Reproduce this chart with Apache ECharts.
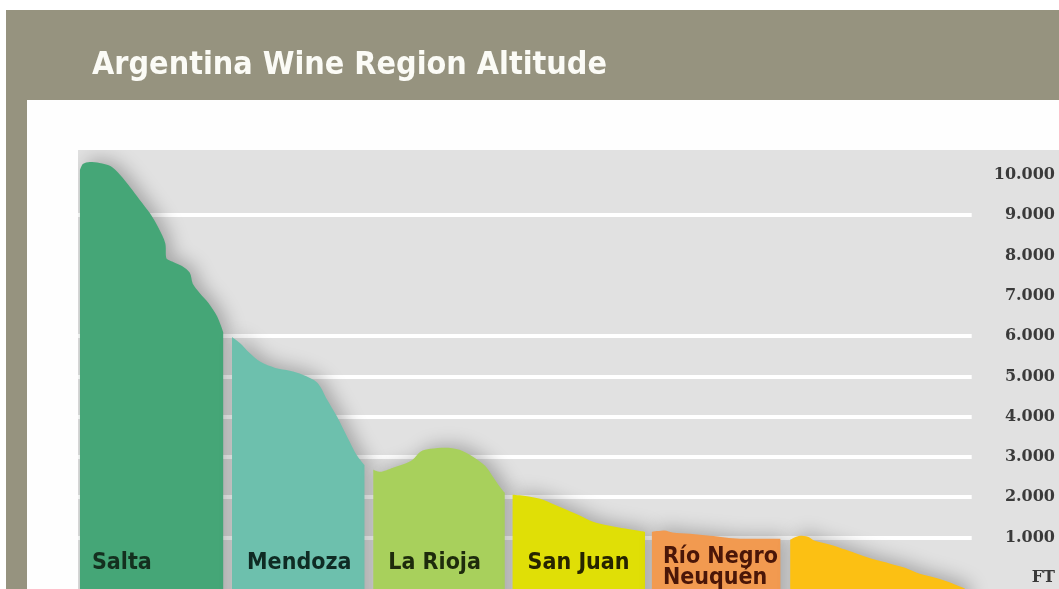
<!DOCTYPE html>
<html><head><meta charset="utf-8">
<script src="https://cdn.jsdelivr.net/npm/echarts@6/dist/echarts.min.js"></script>
<style>html,body{margin:0;padding:0;background:#fff;overflow:hidden}#c{width:1059px;height:618px}</style>
</head><body><div id="c"></div>
<script>
// Region names
const regions = ['Salta', 'Mendoza', 'La Rioja', 'San Juan', 'Río Negro\nNeuquén', ''];
// Altitude profiles: [distance along chart (0-100), altitude in ft]
const salta = [[0.2,10120],[0.5,10270],[1.2,10320],[2.2,10300],[3.3,10220],[4.3,10000],[5.3,9700],[6.3,9380],[7.3,9060],[8.2,8690],[8.9,8300],[9.0,7940],[9.7,7840],[10.6,7740],[11.4,7570],[11.7,7300],[12.4,7070],[13.3,6820],[14.2,6480],[14.8,6100]];
const mendoza = [[15.7,5980],[16.5,5830],[17.5,5580],[18.6,5360],[20.1,5210],[21.6,5140],[22.9,5040],[24.4,4840],[25.4,4420],[26.4,4000],[27.5,3470],[28.4,3050],[29.2,2800]];
const laRioja = [[30.1,2680],[30.8,2630],[32.1,2730],[33.3,2830],[34.1,2930],[34.9,3130],[35.9,3200],[37.4,3230],[38.9,3180],[40.3,3000],[41.5,2780],[42.3,2510],[43.0,2260],[43.5,2110]];
const sanJuan = [[44.3,2060],[45.6,2030],[47.1,1960],[48.6,1810],[49.8,1690],[51.2,1540],[52.5,1390],[54.2,1290],[55.8,1220],[57.8,1140]];
const rioNegro = [[58.5,1140],[59.8,1170],[60.6,1120],[62.4,1090],[64.4,1040],[67.5,970],[69.5,970],[71.6,970]];
const southRegion = [[72.6,940],[73.6,1040],[74.4,1020],[75.1,920],[76.7,820],[78.2,700],[79.7,570],[81.2,450],[82.8,350],[84.3,250],[85.8,100],[87.4,0],[88.9,-120],[90.4,-270]];
const profiles = [salta, mendoza, laRioja, sanJuan, rioNegro, southRegion];
// Gridlines shown (ft)
const gridValues = [9000, 6000, 5000, 4000, 3000, 2000, 1000];
const gridEnd = 91.1;

const colors = ['#45a677', '#6dc0ad', '#a8d05c', '#e0df06', '#f29a50', '#fcc013'];
const textColors = ['#14301f', '#0f2b24', '#1e2b0c', '#262400', '#4a1608', '#222'];
const labelAlt = 370;

const chart = echarts.init(document.getElementById('c'), null, {renderer: 'canvas'});
const series = [{
  type: 'line', data: [], z: 1, silent: true, symbol: 'none',
  markLine: {
    silent: true, symbol: 'none', label: {show: false}, z: 1,
    lineStyle: {color: '#ffffff', width: 4, type: 'solid', opacity: 1},
    emphasis: {disabled: true},
    data: gridValues.map(v => [{coord: [0, v]}, {coord: [gridEnd, v]}])
  }
}];
profiles.forEach((p, i) => {
  const s = {
    type: 'line', name: regions[i], data: p, z: 2 + i, symbol: 'none', smooth: 0.3,
    lineStyle: {width: 0},
    areaStyle: {origin: 'start', color: colors[i], opacity: 1, shadowBlur: 18, shadowColor: 'rgba(0,0,0,0.26)', shadowOffsetX: 6, shadowOffsetY: -3},
    silent: true
  };
  if (regions[i]) {
    s.markPoint = {
      symbol: 'circle', symbolSize: 0, silent: true, z: 50,
      data: [{coord: [p[0][0], labelAlt], value: regions[i]}],
      label: {
        show: true, position: 'right', distance: i === 0 ? 12 : (i === 4 ? 11 : 15),
        formatter: regions[i], color: textColors[i],
        fontFamily: 'DejaVu Sans Condensed', fontWeight: 'bold', fontSize: 23,
        lineHeight: 21, offset: i === 4 ? [0, 5] : [0, 0]
      }
    };
  }
  series.push(s);
});

chart.setOption({
  animation: false,
  backgroundColor: '#ffffff',
  graphic: [
    {type: 'rect', shape: {x: 6, y: 10, width: 1053, height: 610}, style: {fill: '#96937f'}, z: -10, silent: true},
    {type: 'rect', shape: {x: 27, y: 100, width: 1032, height: 520}, style: {fill: '#fefefe'}, z: -9, silent: true},
    {type: 'text', x: 92, y: 66, style: {text: 'Argentina Wine Region Altitude', fill: '#fbfbf6', font: 'bold 32px "DejaVu Sans Condensed"', textVerticalAlign: 'middle'}, z: 10, silent: true}
  ],
  grid: {left: 78, top: 150, right: 0, bottom: 0, show: true, backgroundColor: '#e1e1e1', borderWidth: 0},
  xAxis: {type: 'value', min: 0, max: 100, show: false},
  yAxis: {
    type: 'value', position: 'right', min: -1000, max: 10620, interval: 1000,
    axisLine: {show: false}, axisTick: {show: false}, splitLine: {show: false},
    axisLabel: {
      inside: true, margin: 4, showMaxLabel: false,
      color: '#3a3a3a', fontFamily: 'DejaVu Serif', fontWeight: 'bold', fontSize: 16,
      formatter: v => v === 0 ? 'FT' : (v > 0 ? (v / 1000) + '.000' : '')
    }
  },
  series: series
});
</script></body></html>
